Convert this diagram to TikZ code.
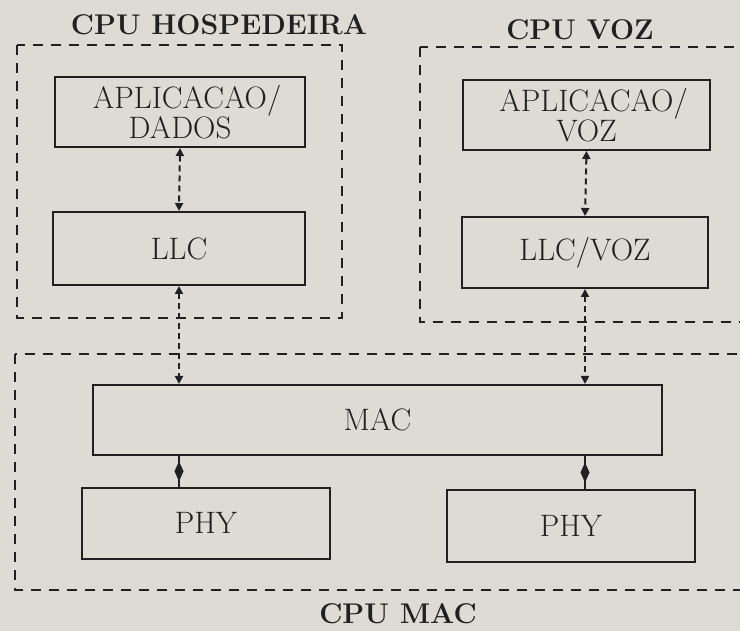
\documentclass[tikz,border=0pt]{standalone}
\usetikzlibrary{arrows.meta,calc}
\definecolor{paper}{RGB}{222,219,212}
\definecolor{ink}{RGB}{32,32,32}
\begin{document}
\begin{tikzpicture}[x=1pt,y=-1pt,
  blk/.style={draw=ink, line width=2pt, inner sep=0pt, align=center,
    text=ink, font=\fontsize{31}{24}\selectfont},
  title/.style={text=ink, inner sep=0pt, font=\fontsize{28.5}{30}\selectfont\bfseries},
  group/.style={draw=ink, line width=2.2pt, dash pattern=on 10pt off 8pt},
  conn/.style={draw=ink, line width=2pt, dash pattern=on 6pt off 4pt,
    {Triangle[length=8pt,width=8pt]}-{Triangle[length=8pt,width=8pt]}},
  solidconn/.style={draw=ink, line width=2pt}]
\useasboundingbox (0,0) rectangle (740,631);
\clip (0,0) rectangle (740,631);
\fill[paper] (0,0) rectangle (740,631);

% group frames
\draw[group] (17,45) rectangle (342,318);
\draw[group] (420,47) rectangle (770,322);
\draw[group] (15,354) rectangle (770,590);

% titles
\node[title] (thost) at (219,25) {CPU HOSPEDEIRA};
\node[title] (tvoz) at (580,30) {CPU VOZ};
\node[title] (tmac) at (398,614) {CPU MAC};

% blocks
\node[blk, minimum width=250pt, minimum height=70pt] (happ) at (180,112) {APLICACAO\rlap{/}\\DADOS};
\node[blk, minimum width=252pt, minimum height=73pt] (hllc) at (179,248.5) {LLC};
\node[blk, minimum width=247pt, minimum height=70pt] (vapp) at (586.5,115) {APLICACAO\rlap{/}\\VOZ};
\node[blk, minimum width=246pt, minimum height=71pt] (vllc) at (585,252.5) {LLC/VOZ};
\node[blk, minimum width=569pt, minimum height=70pt] (mac) at (377.5,420) {MAC};
\node[blk, minimum width=248pt, minimum height=71pt] (hphy) at (206,523) {PHY};
\node[blk, minimum width=248pt, minimum height=72pt] (vphy) at (571,526) {PHY};

% dashed connectors
\draw[conn] (happ.south) -- (hllc.north);
\draw[conn] (vapp.south) -- (vllc.north);
\draw[conn] (hllc.south) -- (hllc.south |- mac.north);
\draw[conn] (vllc.south) -- (vllc.south |- mac.north);

% solid connectors with diamonds
\coordinate (d1) at ($(mac.south -| hllc.south)!0.5!(hphy.north -| hllc.south)$);
\coordinate (d2) at ($(mac.south -| vllc.south)!0.5!(vphy.north -| vllc.south)$);
\draw[solidconn] (mac.south -| hllc.south) -- (hphy.north -| hllc.south);
\draw[solidconn] (mac.south -| vllc.south) -- (vphy.north -| vllc.south);
\fill[ink] (d1) +(0,-10) -- +(4.5,0) -- +(0,10) -- +(-4.5,0) -- cycle;
\fill[ink] (d2) +(0,-10) -- +(4.5,0) -- +(0,10) -- +(-4.5,0) -- cycle;
\end{tikzpicture}
\end{document}
